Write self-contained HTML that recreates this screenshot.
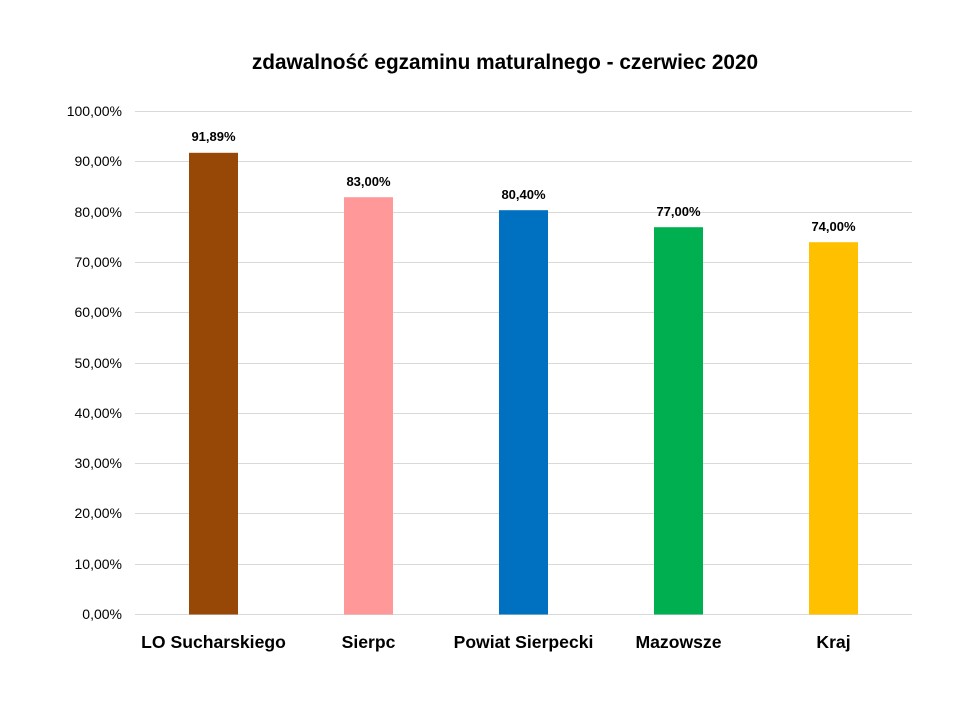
<!DOCTYPE html>
<html><head><meta charset="utf-8"><style>
html,body{margin:0;padding:0;background:#fff;}
svg{display:block;font-family:"Liberation Sans",Arial,sans-serif;}
</style></head><body>
<svg width="960" height="720" viewBox="0 0 960 720" xmlns="http://www.w3.org/2000/svg">
<rect width="960" height="720" fill="#fff"/>
<text x="505" y="69" text-anchor="middle" font-size="20.8" font-weight="bold" fill="#000">zdawalność egzaminu maturalnego - czerwiec 2020</text>
<g stroke="#d9d9d9" stroke-width="1">
<line x1="135" x2="912" y1="111.5" y2="111.5"/>
<line x1="135" x2="912" y1="161.5" y2="161.5"/>
<line x1="135" x2="912" y1="212.5" y2="212.5"/>
<line x1="135" x2="912" y1="262.5" y2="262.5"/>
<line x1="135" x2="912" y1="312.5" y2="312.5"/>
<line x1="135" x2="912" y1="363.5" y2="363.5"/>
<line x1="135" x2="912" y1="413.5" y2="413.5"/>
<line x1="135" x2="912" y1="463.5" y2="463.5"/>
<line x1="135" x2="912" y1="513.5" y2="513.5"/>
<line x1="135" x2="912" y1="564.5" y2="564.5"/>
<line x1="135" x2="912" y1="614.5" y2="614.5"/>
</g>
<g font-size="14" fill="#000" text-anchor="end">
<text x="122" y="116">100,00%</text>
<text x="122" y="166">90,00%</text>
<text x="122" y="217">80,00%</text>
<text x="122" y="267">70,00%</text>
<text x="122" y="317">60,00%</text>
<text x="122" y="368">50,00%</text>
<text x="122" y="418">40,00%</text>
<text x="122" y="468">30,00%</text>
<text x="122" y="518">20,00%</text>
<text x="122" y="569">10,00%</text>
<text x="122" y="619">0,00%</text>
</g>
<rect x="189" y="152.8" width="49" height="461.7" fill="#974706"/>
<rect x="344" y="197.2" width="49" height="417.3" fill="#FF9999"/>
<rect x="499" y="210.2" width="49" height="404.3" fill="#0070C0"/>
<rect x="654" y="227.2" width="49" height="387.3" fill="#00B050"/>
<rect x="809" y="242.2" width="49" height="372.3" fill="#FFC000"/>
<g font-size="13" font-weight="bold" fill="#000" text-anchor="middle">
<text x="213.5" y="141">91,89%</text>
<text x="368.5" y="186">83,00%</text>
<text x="523.5" y="199">80,40%</text>
<text x="678.5" y="216">77,00%</text>
<text x="833.5" y="231">74,00%</text>
</g>
<g font-size="17.6" font-weight="bold" fill="#000" text-anchor="middle">
<text x="213.5" y="648">LO Sucharskiego</text>
<text x="368.5" y="648">Sierpc</text>
<text x="523.5" y="648">Powiat Sierpecki</text>
<text x="678.5" y="648">Mazowsze</text>
<text x="833.5" y="648">Kraj</text>
</g>
</svg>
</body></html>
